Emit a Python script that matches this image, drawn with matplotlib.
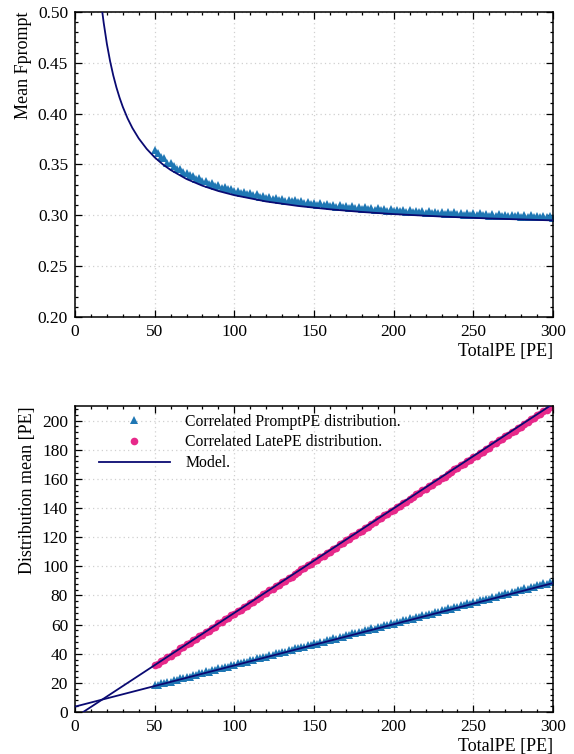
import numpy as np
import matplotlib.pyplot as plt

plt.rcParams['font.family'] = ['Liberation Serif', 'DejaVu Serif']

# TotalPE bins (every 2 PE from 50 to 300)
total_pe = list(range(50, 301, 2))

# Mean Fprompt per bin
fprompt = [
    0.3640, 0.3612, 0.3571, 0.3560, 0.3519, 0.3511, 0.3490, 0.3458, 0.3452, 0.3423,
    0.3420, 0.3392, 0.3386, 0.3360, 0.3364, 0.3339, 0.3336, 0.3312, 0.3315, 0.3291,
    0.3296, 0.3273, 0.3278, 0.3254, 0.3262, 0.3240, 0.3243, 0.3224, 0.3230, 0.3209,
    0.3218, 0.3197, 0.3205, 0.3184, 0.3194, 0.3175, 0.3183, 0.3162, 0.3172, 0.3153,
    0.3163, 0.3142, 0.3154, 0.3136, 0.3147, 0.3128, 0.3139, 0.3119, 0.3131, 0.3113,
    0.3124, 0.3105, 0.3117, 0.3098, 0.3110, 0.3093, 0.3105, 0.3086, 0.3099, 0.3080,
    0.3092, 0.3075, 0.3088, 0.3070, 0.3083, 0.3065, 0.3077, 0.3060, 0.3074, 0.3055,
    0.3068, 0.3051, 0.3064, 0.3047, 0.3061, 0.3043, 0.3057, 0.3039, 0.3053, 0.3036,
    0.3050, 0.3032, 0.3046, 0.3029, 0.3043, 0.3025, 0.3040, 0.3022, 0.3037, 0.3019,
    0.3034, 0.3016, 0.3031, 0.3013, 0.3028, 0.3011, 0.3025, 0.3008, 0.3023, 0.3005,
    0.3020, 0.3003, 0.3018, 0.3000, 0.3015, 0.2998, 0.3013, 0.2996, 0.3011, 0.2994,
    0.3008, 0.2991, 0.3006, 0.2989, 0.3004, 0.2987, 0.3002, 0.2985, 0.3000, 0.2983,
    0.2998, 0.2982, 0.2997, 0.2980, 0.2995, 0.2978,
]

# Correlated PromptPE distribution mean
prompt_mean = [
    18.4, 18.5, 19.6, 19.7, 20.9, 20.8, 21.9, 22.0, 23.1, 23.0,
    24.3, 24.2, 25.4, 25.3, 26.6, 26.5, 27.8, 27.6, 28.9, 28.8,
    29.9, 30.0, 31.1, 31.0, 32.3, 32.2, 33.4, 33.3, 34.5, 34.4,
    35.7, 35.6, 36.9, 36.8, 38.0, 37.9, 39.1, 39.0, 40.3, 40.2,
    41.4, 41.3, 42.5, 42.4, 43.7, 43.6, 44.8, 44.7, 46.0, 45.9,
    47.1, 47.0, 48.2, 48.1, 49.4, 49.3, 50.5, 50.4, 51.7, 51.6,
    52.8, 52.7, 53.9, 53.9, 55.1, 55.0, 56.2, 56.1, 57.4, 57.3,
    58.5, 58.4, 59.7, 59.6, 60.8, 60.7, 61.9, 61.8, 63.1, 63.0,
    64.2, 64.1, 65.4, 65.2, 66.5, 66.4, 67.6, 67.5, 68.8, 68.7,
    69.9, 69.8, 71.1, 71.0, 72.2, 72.1, 73.4, 73.2, 74.5, 74.4,
    75.6, 75.5, 76.8, 76.7, 77.9, 77.8, 79.1, 79.0, 80.2, 80.1,
    81.4, 81.2, 82.5, 82.4, 83.6, 83.5, 84.8, 84.7, 85.9, 85.8,
    87.1, 86.9, 88.2, 88.1, 89.3, 89.2,
]

# Correlated LatePE distribution mean
late_mean = [
    32.1, 33.0, 35.0, 35.8, 37.9, 38.6, 40.8, 41.5, 43.6, 44.3,
    46.5, 47.2, 49.3, 50.1, 52.2, 52.9, 55.0, 55.8, 57.9, 58.6,
    60.8, 61.5, 63.6, 64.3, 66.5, 67.2, 69.3, 70.1, 72.2, 72.9,
    75.0, 75.8, 77.9, 78.6, 80.8, 81.5, 83.6, 84.3, 86.5, 87.2,
    89.3, 90.1, 92.2, 92.9, 95.0, 95.8, 97.9, 98.6, 100.8, 101.5,
    103.6, 104.4, 106.5, 107.2, 109.3, 110.1, 112.2, 112.9, 115.0, 115.8,
    117.9, 118.7, 120.8, 121.5, 123.6, 124.4, 126.5, 127.2, 129.3, 130.1,
    132.2, 133.0, 135.0, 135.8, 137.9, 138.7, 140.8, 141.5, 143.6, 144.4,
    146.5, 147.3, 149.3, 150.1, 152.2, 153.0, 155.1, 155.8, 157.9, 158.7,
    160.8, 161.5, 163.6, 164.4, 166.5, 167.3, 169.3, 170.1, 172.2, 173.0,
    175.0, 175.8, 177.9, 178.7, 180.8, 181.5, 183.6, 184.4, 186.5, 187.3,
    189.3, 190.1, 192.2, 193.0, 195.0, 195.8, 197.9, 198.7, 200.8, 201.5,
    203.6, 204.4, 206.5, 207.3, 209.3, 210.1,
]

# Model curve for mean Fprompt (sampled)
model_f_x = [15, 16, 17, 18, 20, 22, 24, 26, 28, 30, 33, 36, 40, 45, 50, 55, 60,
             70, 80, 90, 100, 120, 140, 160, 180, 200, 230, 260, 300]
model_f_y = [0.5306, 0.5151, 0.5014, 0.4893, 0.4686, 0.4517, 0.4376, 0.4257, 0.4155,
             0.4066, 0.3953, 0.3859, 0.3756, 0.3653, 0.3570, 0.3502, 0.3446, 0.3357,
             0.3291, 0.3239, 0.3198, 0.3136, 0.3092, 0.3059, 0.3033, 0.3012, 0.2988,
             0.2969, 0.2950]

# Model lines for the distribution means
model_x = [0, 300]
model_prompt = [3.7, 88.5]
model_late = [-3.7, 211.5]

xticks = [0, 50, 100, 150, 200, 250, 300]
top_yticks = [0.20, 0.25, 0.30, 0.35, 0.40, 0.45, 0.50]
bot_yticks = [0, 20, 40, 60, 80, 100, 120, 140, 160, 180, 200]

blue = '#1f77b4'
pink = '#e7298a'
navy = '#0a0a72'


def style(ax):
    ax.set_xlim(0, 300)
    ax.set_xticks(xticks)
    ax.set_xticks(np.arange(0, 301, 10), minor=True)
    ax.tick_params(which='both', direction='in', top=True, right=True,
                   labelsize=12.5, width=0.9, pad=5)
    ax.tick_params(which='major', length=5)
    ax.tick_params(which='minor', length=2.5)
    ax.grid(which='major', color='#d0d0d0', linestyle=(0, (1, 2.5)), linewidth=0.9)
    ax.set_axisbelow(True)
    for s in ax.spines.values():
        s.set_linewidth(1.1)
    ax.set_xlabel('TotalPE [PE]', loc='right', fontsize=13, labelpad=2)


fig = plt.figure(figsize=(5.74, 7.54), dpi=100)

# Top: mean Fprompt
ax1 = fig.add_axes([0.1307, 0.5796, 0.8328, 0.4045])
ax1.plot(total_pe, fprompt, '^', color=blue, ms=5.5, mew=0, zorder=2)
ax1.plot(model_f_x, model_f_y, '-', color=navy, lw=1.3, zorder=3)
style(ax1)
ax1.set_ylim(0.20, 0.50)
ax1.set_yticks(top_yticks)
ax1.set_yticklabels([f'{v:.2f}' for v in top_yticks])
ax1.set_yticks(np.arange(0.20, 0.501, 0.01), minor=True)
ax1.set_ylabel('Mean Fprompt', loc='top', fontsize=13, labelpad=4)

# Bottom: distribution means
ax2 = fig.add_axes([0.1307, 0.0557, 0.8328, 0.4058])
ax2.plot(total_pe, prompt_mean, '^', color=blue, ms=5.5, mew=0, zorder=2,
         label='Correlated PromptPE distribution.')
ax2.plot(total_pe, late_mean, 'o', color=pink, ms=5.5, mew=0, zorder=2,
         label='Correlated LatePE distribution.')
ax2.plot(model_x, model_prompt, '-', color=navy, lw=1.3, zorder=3, label='Model.')
ax2.plot(model_x, model_late, '-', color=navy, lw=1.3, zorder=3)
style(ax2)
ax2.set_ylim(0, 210)
ax2.set_yticks(bot_yticks)
ax2.set_yticks(np.arange(0, 211, 4), minor=True)
ax2.set_ylabel('Distribution mean [PE]', loc='top', fontsize=13, labelpad=4)
ax2.legend(loc='upper left', bbox_to_anchor=(0.05, 0.975), frameon=False,
           fontsize=11.3, handlelength=4.5, handletextpad=1.0, borderpad=0,
           borderaxespad=0, labelspacing=0.3, markerscale=1.0)

fig.savefig('out.png', dpi=100)
